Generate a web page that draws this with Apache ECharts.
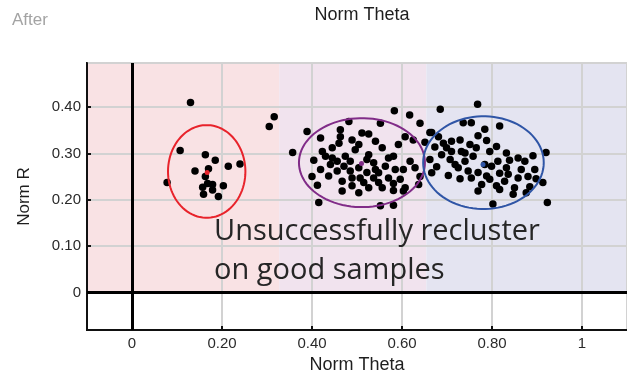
<!DOCTYPE html>
<html>
<head>
<meta charset="utf-8">
<script src="https://cdn.jsdelivr.net/npm/echarts@6/dist/echarts.min.js"></script>
<style>
  html, body { margin: 0; padding: 0; background: #fff; }
  #main { width: 627px; height: 379px; }
</style>
</head>
<body>
<div id="main"></div>
<script>
// samples: [norm theta, norm R]
const leftPts = [
  [0.107, 0.306], [0.163, 0.297], [0.185, 0.285], [0.214, 0.272], [0.240, 0.277],
  [0.140, 0.262], [0.170, 0.267], [0.163, 0.250], [0.078, 0.237], [0.157, 0.227],
  [0.168, 0.235], [0.179, 0.233], [0.179, 0.221], [0.203, 0.230], [0.159, 0.212],
  [0.192, 0.207]
];
const midPts = [
  [0.482, 0.369], [0.552, 0.365], [0.389, 0.347], [0.463, 0.351], [0.526, 0.342],
  [0.662, 0.345], [0.419, 0.333], [0.463, 0.336], [0.489, 0.329], [0.541, 0.326],
  [0.607, 0.336], [0.625, 0.329], [0.651, 0.324], [0.460, 0.322], [0.504, 0.319],
  [0.556, 0.312], [0.592, 0.319], [0.423, 0.304], [0.496, 0.308], [0.526, 0.297],
  [0.430, 0.294], [0.445, 0.290], [0.474, 0.294], [0.404, 0.285], [0.456, 0.283],
  [0.485, 0.283], [0.441, 0.276], [0.471, 0.272], [0.537, 0.280], [0.563, 0.272],
  [0.585, 0.265], [0.603, 0.265], [0.629, 0.269], [0.419, 0.265], [0.456, 0.262],
  [0.485, 0.262], [0.522, 0.259], [0.548, 0.258], [0.400, 0.250], [0.437, 0.251],
  [0.489, 0.247], [0.507, 0.247], [0.537, 0.247], [0.570, 0.247], [0.596, 0.244],
  [0.640, 0.250], [0.467, 0.240], [0.515, 0.237], [0.548, 0.237], [0.581, 0.235],
  [0.412, 0.231], [0.489, 0.230], [0.526, 0.226], [0.556, 0.226], [0.607, 0.226],
  [0.467, 0.219], [0.504, 0.215], [0.581, 0.220], [0.603, 0.219], [0.415, 0.194],
  [0.552, 0.187], [0.581, 0.188], [0.522, 0.287], [0.570, 0.290], [0.618, 0.283],
  [0.504, 0.269], [0.541, 0.265], [0.445, 0.312], [0.511, 0.344], [0.581, 0.294],
  [0.637, 0.233]
];
const rightPts = [
  [0.736, 0.366], [0.754, 0.366], [0.817, 0.359], [0.784, 0.352], [0.666, 0.345],
  [0.769, 0.338], [0.788, 0.328], [0.729, 0.329], [0.692, 0.322], [0.710, 0.326],
  [0.751, 0.319], [0.810, 0.315], [0.673, 0.314], [0.832, 0.301], [0.891, 0.295],
  [0.732, 0.304], [0.795, 0.304], [0.858, 0.290], [0.688, 0.297], [0.758, 0.294],
  [0.662, 0.287], [0.707, 0.287], [0.740, 0.283], [0.813, 0.283], [0.839, 0.285],
  [0.873, 0.283], [0.677, 0.271], [0.725, 0.269], [0.799, 0.272], [0.832, 0.269],
  [0.895, 0.265], [0.666, 0.258], [0.703, 0.252], [0.747, 0.262], [0.769, 0.259],
  [0.817, 0.257], [0.858, 0.247], [0.880, 0.250], [0.898, 0.245], [0.729, 0.245],
  [0.754, 0.247], [0.795, 0.244], [0.828, 0.240], [0.913, 0.237], [0.777, 0.233],
  [0.810, 0.230], [0.850, 0.226], [0.884, 0.228], [0.769, 0.219], [0.817, 0.222],
  [0.847, 0.212], [0.876, 0.215], [0.710, 0.304], [0.681, 0.336], [0.718, 0.276],
  [0.784, 0.276], [0.740, 0.301], [0.788, 0.251], [0.836, 0.255], [0.865, 0.265],
  [0.699, 0.312], [0.765, 0.312]
];
const strayPts = [
  [0.130, 0.410], [0.305, 0.358], [0.316, 0.379], [0.357, 0.302], [0.583, 0.392],
  [0.617, 0.383], [0.640, 0.365], [0.685, 0.395], [0.768, 0.406], [0.920, 0.302],
  [0.923, 0.194], [0.802, 0.191]
];

// cluster centres and outline ellipses [cx, cy, rx, ry]
const centers = [[0.167, 0.259], [0.510, 0.278], [0.780, 0.276]];
const ellipses = [[0.166, 0.261, 0.086, 0.100], [0.511, 0.280, 0.140, 0.096], [0.781, 0.280, 0.134, 0.100]];
const clusterColors = ['#e8232b', '#812c88', '#2f55a6'];

// shaded theta bands (above R = 0)
const bandEdges = [-0.1, 0.327, 0.654, 1.1];
const bandColors = ['#f9e2e4', '#f1e3ee', '#e4e4f1'];

const X_MIN = -0.1, X_MAX = 1.1;
const Y_MIN = -0.0813, Y_MAX = 0.495;

const tickFmt = v => Math.abs(v) < 1e-9 ? '0' : (Math.abs(v - 1) < 1e-9 ? '1' : v.toFixed(2));
const font = 'Liberation Sans, Arial, sans-serif';

let chart = echarts.init(document.getElementById('main'));

chart.setOption({
  animation: false,
  grid: { left: 87, top: 63, right: -3, bottom: 47, show: true, borderColor: '#111', borderWidth: 2, backgroundColor: 'transparent' },
  xAxis: {
    type: 'value', min: X_MIN, max: X_MAX, splitNumber: 5,
    axisLine: { onZero: false, lineStyle: { color: '#111', width: 2 } },
    axisTick: { inside: true, length: 4, lineStyle: { color: '#111', width: 2 } },
    splitLine: { lineStyle: { color: '#d2d2d2', width: 2 } },
    axisLabel: { showMinLabel: false, showMaxLabel: false, formatter: tickFmt, color: '#2a2a2a', fontSize: 15, margin: 6, fontFamily: font },
    name: 'Norm Theta', nameLocation: 'middle', nameGap: 25,
    nameTextStyle: { fontSize: 18, color: '#1e1e1e', fontFamily: font }
  },
  yAxis: {
    type: 'value', min: Y_MIN, max: Y_MAX, splitNumber: 5,
    axisLine: { onZero: false, lineStyle: { color: '#111', width: 2 } },
    axisTick: { inside: true, length: 4, lineStyle: { color: '#111', width: 2 } },
    splitLine: { lineStyle: { color: '#d2d2d2', width: 2 } },
    axisLabel: { showMinLabel: false, showMaxLabel: false, formatter: tickFmt, color: '#2a2a2a', fontSize: 15, margin: 6, fontFamily: font },
    name: 'Norm R', nameLocation: 'middle', nameGap: 54,
    nameTextStyle: { fontSize: 17, color: '#1e1e1e', fontFamily: font }
  },
  graphic: [
    { type: 'text', left: 12, top: 12, z: 100, style: { text: 'After', fontSize: 17, fill: '#a3a3a3', fontFamily: font } },
    { type: 'text', x: 362, y: 15, z: 100, style: { text: 'Norm Theta', fontSize: 18, fill: '#1e1e1e', fontFamily: font, align: 'center', verticalAlign: 'middle' } },
    { type: 'text', x: 214, y: 232, z: 100, style: { text: 'Unsuccessfully recluster', fontSize: 29, fill: '#262626', fontFamily: 'Open Sans', verticalAlign: 'middle' } },
    { type: 'text', x: 214, y: 271, z: 100, style: { text: 'on good samples', fontSize: 29, fill: '#262626', fontFamily: 'Open Sans', verticalAlign: 'middle' } }
  ],
  series: [
    {
      // background bands, beneath the grid lines
      type: 'custom', z: -1, silent: true,
      data: bandColors.map((c, i) => [bandEdges[i], bandEdges[i + 1], i]),
      renderItem: (params, api) => {
        const p0 = api.coord([api.value(0), Y_MAX]);
        const p1 = api.coord([api.value(1), 0]);
        return {
          type: 'rect',
          shape: { x: p0[0], y: p0[1], width: p1[0] - p0[0], height: p1[1] - p0[1] },
          style: { fill: bandColors[api.value(2)] }
        };
      }
    },
    {
      type: 'scatter', z: 4, silent: true,
      symbolSize: 7.5,
      itemStyle: { color: '#000', opacity: 1 },
      data: leftPts.concat(midPts, rightPts, strayPts),
      markLine: {
        silent: true, symbol: 'none', animation: false,
        label: { show: false },
        lineStyle: { color: '#000', width: 3, type: 'solid' },
        data: [{ xAxis: 0 }, { yAxis: 0 }]
      }
    },
    {
      type: 'custom', z: 5, silent: true,
      data: ellipses,
      renderItem: (params, api) => {
        const c = api.coord([api.value(0), api.value(1)]);
        const s = api.size([api.value(2), api.value(3)]);
        const pts = [];
        for (let k = 0; k <= 90; k++) {
          const a = k / 90 * Math.PI * 2;
          pts.push([c[0] + s[0] * Math.cos(a), c[1] + s[1] * Math.sin(a)]);
        }
        return {
          type: 'polygon', shape: { points: pts },
          style: { fill: 'none', stroke: clusterColors[params.dataIndex], lineWidth: 2 }
        };
      }
    },
    {
      type: 'scatter', z: 6, silent: true,
      symbolSize: 5,
      data: centers,
      itemStyle: { color: p => clusterColors[p.dataIndex], opacity: 1 }
    }
  ]
});
</script>
</body>
</html>
